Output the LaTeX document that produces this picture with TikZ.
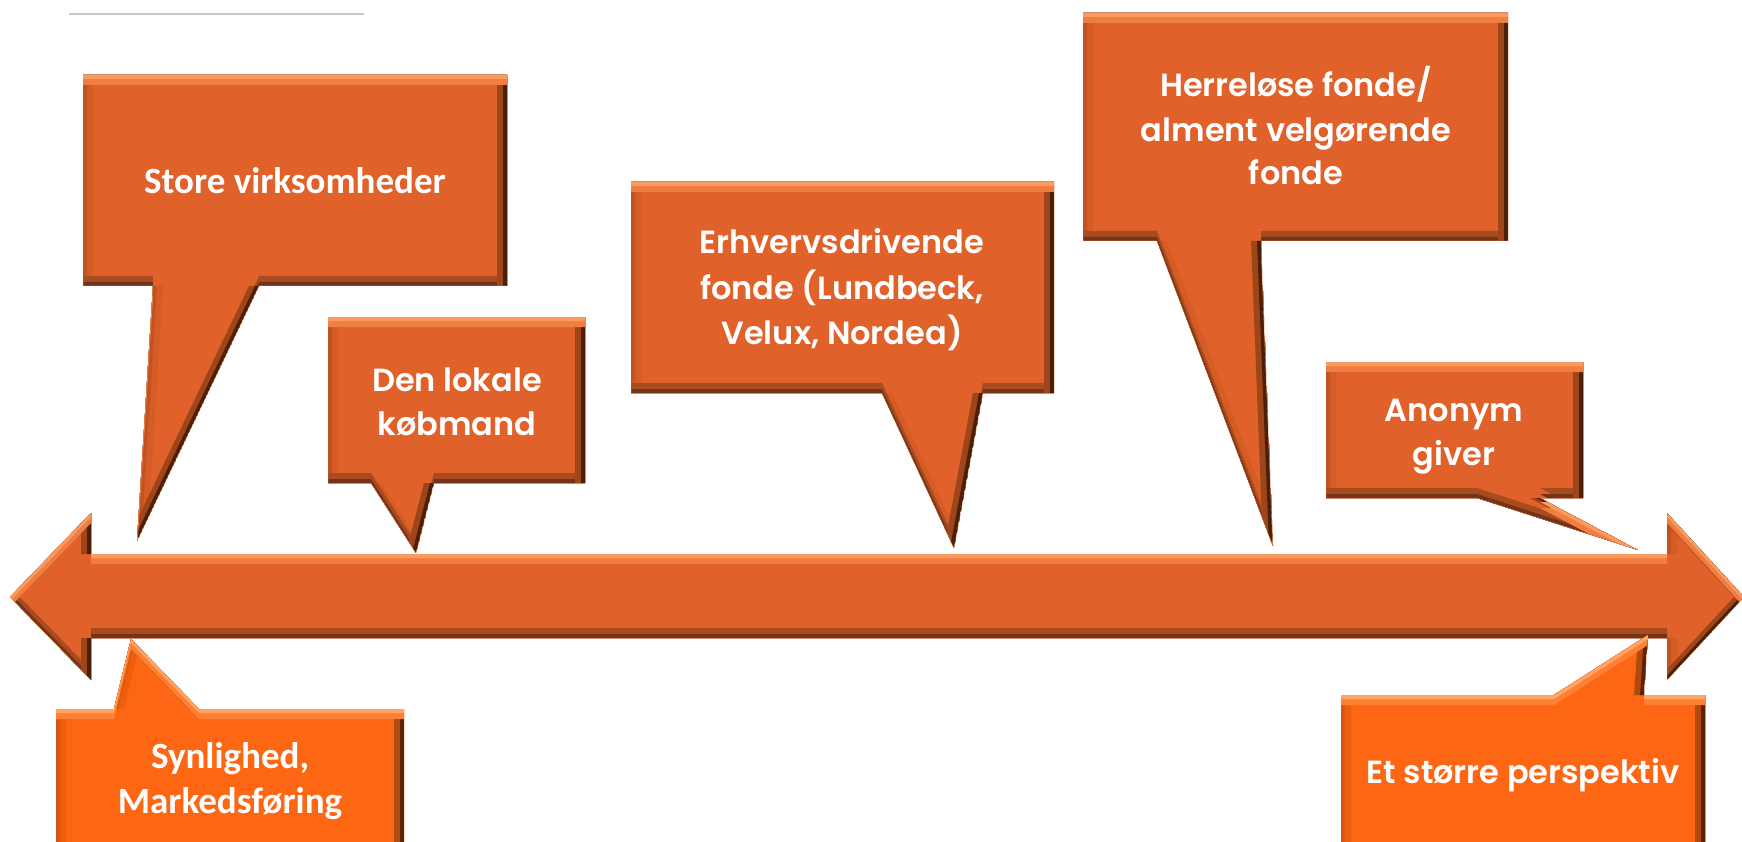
\documentclass[tikz,border=0pt]{standalone}
\usepackage{fontspec}
\newfontfamily\popf{Poppins}[UprightFont=* SemiBold]
\newfontfamily\calf{Carlito}
\definecolor{bBase}{HTML}{E0622A}
\definecolor{bTopA}{HTML}{FA9A5E}
\definecolor{bTopB}{HTML}{F07E42}
\definecolor{bLeftA}{HTML}{C45220}
\definecolor{bLeftB}{HTML}{D65C26}
\definecolor{bRightA}{HTML}{4A2009}
\definecolor{bRightB}{HTML}{9E4519}
\definecolor{bBotA}{HTML}{74341A}
\definecolor{bBotB}{HTML}{A84C1F}
\definecolor{rBase}{HTML}{FD6612}
\definecolor{rTopA}{HTML}{FFA462}
\definecolor{rTopB}{HTML}{FF8034}
\definecolor{rLeftA}{HTML}{DE550C}
\definecolor{rLeftB}{HTML}{EE5E0F}
\definecolor{rRightA}{HTML}{5A2405}
\definecolor{rRightB}{HTML}{B04A0E}
\definecolor{rBotA}{HTML}{7A320A}
\definecolor{rBotB}{HTML}{B84E12}
\definecolor{rulegray}{HTML}{C8C8C8}
% #1 closed path, #2 colour set prefix
\newcommand\bev[2]{%
\begin{scope}
\clip #1;
\fill[#2Base] #1;
\fill[#2LeftB, even odd rule] #1 {[shift={(10,0)}] #1};
\fill[#2LeftA, even odd rule] #1 {[shift={(4,0)}] #1};
\fill[#2BotB, even odd rule] #1 {[shift={(0,-10)}] #1};
\fill[#2BotA, even odd rule] #1 {[shift={(0,-4)}] #1};
\fill[#2RightB, even odd rule] #1 {[shift={(-10,0)}] #1};
\fill[#2RightA, even odd rule] #1 {[shift={(-4,0)}] #1};
\fill[#2TopB, even odd rule] #1 {[shift={(0,10)}] #1};
\fill[#2TopA, even odd rule] #1 {[shift={(0,4)}] #1};
\end{scope}}
\tikzset{
  poplbl/.style={text=white, anchor=base, inner sep=0pt, font=\popf\fontsize{32}{40}\selectfont},
  callbl/.style={text=white, anchor=base, inner sep=0pt, font=\calf\bfseries\fontsize{37}{44}\selectfont}
}
\begin{document}
\begin{tikzpicture}[x=1pt,y=-1pt]
\useasboundingbox (0,0) rectangle (1742,842);
% rule
\draw[rulegray, line width=2.2] (69,14) -- (364,14);
% double arrow
\bev{(10,597) -- (91,513) -- (91,554) -- (1667,554) -- (1667,513) -- (1744,597) -- (1667,680) -- (1667,638) -- (91,638) -- (91,680) -- cycle}{b}
% callouts
\bev{(83,75) -- (507,75) -- (507,286) -- (259,286) -- (137,541) -- (153,286) -- (83,286) -- cycle}{b}
\bev{(328,317) -- (585,317) -- (585,483) -- (434,483) -- (416,553) -- (371,483) -- (328,483) -- cycle}{b}
\bev{(631,182) -- (1054,182) -- (1054,393) -- (983,393) -- (954,548) -- (882,393) -- (631,393) -- cycle}{b}
\bev{(1083,13) -- (1508,13) -- (1508,241) -- (1261,241) -- (1273,546) -- (1157,241) -- (1083,241) -- cycle}{b}
\bev{(1326,362) -- (1583,362) -- (1583,498) -- (1540,498) -- (1638,550) -- (1477,498) -- (1326,498) -- cycle}{b}
\bev{(56,709) -- (114,709) -- (131,639) -- (199,709) -- (404,709) -- (404,856) -- (56,856) -- cycle}{r}
\bev{(1341,695) -- (1554,695) -- (1648,635) -- (1644,695) -- (1705,695) -- (1705,856) -- (1341,856) -- cycle}{r}
% texts
\node[callbl] (store) at (295,194) {Store virksomheder};
\node[poplbl] (lok1) at (457,391) {Den lokale};
\node[poplbl] (lok2) at (457,435) {købmand};
\node[poplbl] (erh1) at (842,254) {Erhvervsdrivende};
\node[poplbl] (erh2) at (842,299) {fonde (Lundbeck,};
\node[poplbl] (erh3) at (842,344) {Velux, Nordea)};
\node[poplbl] (her1) at (1296,97) {Herreløse fonde/};
\node[poplbl] (her2) at (1296,142) {alment velgørende};
\node[poplbl] (her3) at (1296,185) {fonde};
\node[poplbl] (ano1) at (1454,421) {Anonym};
\node[poplbl] (ano2) at (1454,465) {giver};
\node[callbl] (syn1) at (230,768) {Synlighed,};
\node[callbl] (syn2) at (230,813) {Markedsføring};
\node[poplbl] (etst) at (1523,783) {Et større perspektiv};
\end{tikzpicture}
\end{document}
